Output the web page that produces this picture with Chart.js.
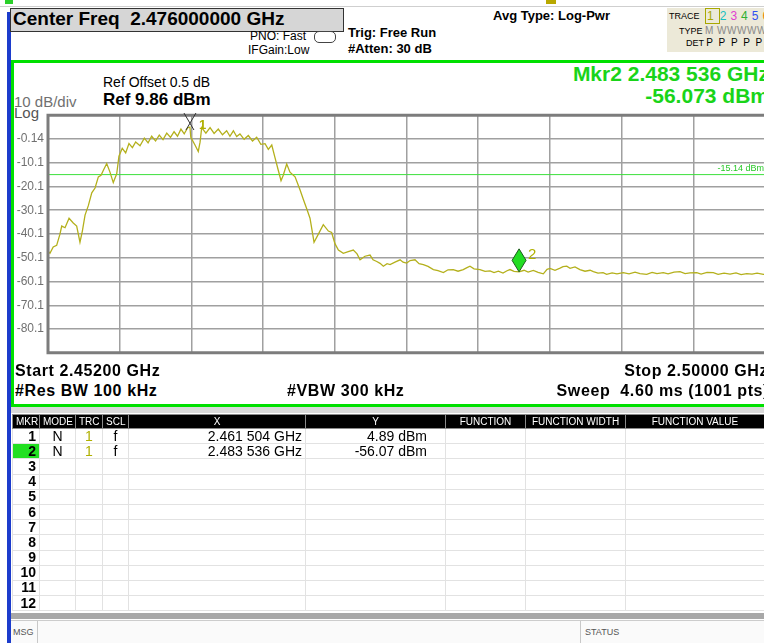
<!DOCTYPE html>
<html>
<head>
<meta charset="utf-8">
<script src="https://cdn.jsdelivr.net/npm/chart.js@4.4.1/dist/chart.umd.min.js"></script>
<style>
  html, body { margin: 0; padding: 0; width: 764px; height: 643px; overflow: hidden; background: #fff; }
  body { position: relative; font-family: "Liberation Sans", Arial, sans-serif; color: #000; }
  .abs { position: absolute; white-space: nowrap; }
  .narrow { font-family: "Liberation Sans Narrow", "Arial Narrow", "Liberation Sans", sans-serif; }
  .foot { font-size: 16px; font-weight: bold; letter-spacing: 0.6px; }
  #panel { position: absolute; left: 11px; top: 60px; width: 770px; height: 341px; border: 3px solid #00e000; border-right: none; }
  #trace { position: absolute; left: 14px; top: 104px; }
  #tbl { position: absolute; left: 12px; top: 414px; width: 752px; border-collapse: collapse; table-layout: fixed; }
  #tbl td { height: 14.2px; padding: 0 3px; border: 1px solid #e2e2e2; font-size: 14px; line-height: 13px; overflow: hidden; }
  #tbl tr.hd td { background: #000; color: #fff; border: 1px solid #8a8a8a; font-size: 10px; text-align: center; height: 13px;
    font-family: "Liberation Sans Narrow", "Liberation Sans", sans-serif; }
  #tbl td.n { text-align: right; font-weight: bold; padding-right: 3px; }
  #tbl td.c { text-align: center; }
  #tbl td.r { text-align: right; }
</style>
</head>
<body>

<!-- ruler strip and left frame -->
<div class="abs" style="left:0;top:6px;width:764px;height:1px;background:#cfcfcf"></div>
<div class="abs" style="left:5px;top:0;width:8px;height:4px;background:#2ad02a"></div>
<div class="abs" style="left:546px;top:0;width:10px;height:4px;background:#b8a800"></div>
<div class="abs" style="left:7px;top:12px;width:4px;height:631px;background:#1c3ccc"></div>

<!-- header -->
<div class="abs" style="left:10px;top:8px;width:332px;height:22px;background:#d6d6d6;border:1px solid #333"></div>
<div class="abs" style="left:13px;top:8px;font-size:19px;font-weight:bold;">Center Freq&nbsp; 2.476000000 GHz</div>
<div class="abs" style="left:250px;top:29px;font-size:12px;">PNO: Fast</div>
<div class="abs" style="left:314px;top:31px;width:20px;height:10px;border:1px solid #444;border-radius:5px;"></div>
<div class="abs" style="left:248px;top:43px;font-size:12px;">IFGain:Low</div>
<div class="abs narrow" style="left:348px;top:25px;font-size:13px;font-weight:bold;">Trig: Free Run</div>
<div class="abs narrow" style="left:348px;top:41px;font-size:13px;font-weight:bold;">#Atten: 30 dB</div>
<div class="abs narrow" style="left:493px;top:8px;font-size:13px;font-weight:bold;">Avg Type: Log-Pwr</div>

<div class="abs" style="left:667px;top:8px;width:100px;height:44px;background:#ece9d8"></div>
<div class="abs narrow" style="left:669px;top:11px;font-size:9px;">TRACE</div>
<div class="abs narrow" style="left:705px;top:9px;font-size:12px;letter-spacing:4px;">
  <span style="color:#a8a800;border:1px solid #a8a800;padding:0 1px;">1</span><span style="color:#18c0c0">2</span><span style="color:#e040d0">3</span><span style="color:#30b030">4</span><span style="color:#3050f0">5</span><span style="color:#f08000">6</span>
</div>
<div class="abs narrow" style="left:679px;top:25px;font-size:9px;">TYPE <span style="color:#888;font-size:10px;letter-spacing:0.5px;">M WWWWW</span></div>
<div class="abs narrow" style="left:686px;top:37px;font-size:9px;">DET <span style="font-size:10px;letter-spacing:1.5px;">P P P P P P</span></div>

<!-- measurement panel -->
<div id="panel"></div>
<div class="abs" style="left:103px;top:74px;font-size:14px;">Ref Offset 0.5 dB</div>
<div class="abs" style="left:103px;top:90px;font-size:17px;font-weight:bold;">Ref 9.86 dBm</div>
<div class="abs" style="left:14px;top:93px;font-size:15px;color:#707070;">10 dB/div</div>
<div class="abs" style="left:14px;top:104px;font-size:15px;color:#555;">Log</div>
<div class="abs" style="right:-5px;top:62px;font-size:21px;font-weight:bold;color:#19d419;">Mkr2 2.483 536 GHz</div>
<div class="abs" style="right:-5px;top:84px;font-size:21px;font-weight:bold;color:#19d419;">-56.073 dBm</div>

<canvas id="trace" width="751" height="260"></canvas>

<div class="abs foot" style="left:15px;top:362px;">Start 2.45200 GHz</div>
<div class="abs foot" style="right:-4px;top:362px;">Stop 2.50000 GHz</div>
<div class="abs foot" style="left:15px;top:382px;">#Res BW 100 kHz</div>
<div class="abs foot" style="left:287px;top:382px;">#VBW 300 kHz</div>
<div class="abs foot" style="right:-5px;top:382px;">Sweep&nbsp; 4.60 ms (1001 pts)</div>

<!-- marker table -->
<div class="abs" style="left:11px;top:407px;width:760px;height:6px;background:#d9d9d9"></div>
<table id="tbl"></table>
<div class="abs" style="left:11px;top:613px;width:760px;height:6px;background:#a8a8a8"></div>
<div class="abs" style="left:11px;top:620px;width:760px;height:23px;background:#fafafa;border-top:1px solid #ccc"></div>
<div class="abs" style="left:37px;top:621px;width:1px;height:22px;background:#c8c8c8"></div>
<div class="abs" style="left:580px;top:621px;width:1px;height:22px;background:#c8c8c8"></div>
<div class="abs" style="left:13px;top:627px;font-size:9px;color:#555;">MSG</div>
<div class="abs" style="left:585px;top:627px;font-size:9px;color:#555;">STATUS</div>

<script>
// trace (MHz, dBm)
const freqMHz = [
  2452.00, 2452.13, 2452.35, 2452.58, 2452.80, 2452.92, 2453.14, 2453.41, 2453.69, 2453.92,
  2454.14, 2454.30, 2454.48, 2454.70, 2454.93, 2455.15, 2455.37, 2455.55, 2455.70, 2455.93,
  2456.15, 2456.37, 2456.60, 2456.75, 2456.97, 2457.20, 2457.42, 2457.65, 2457.87, 2458.16,
  2458.45, 2458.70, 2458.94, 2459.20, 2459.45, 2459.70, 2459.95, 2460.20, 2460.44, 2460.67,
  2460.90, 2461.12, 2461.35, 2461.50, 2461.56, 2461.84, 2462.06, 2462.18, 2462.29, 2462.57,
  2462.85, 2463.12, 2463.40, 2463.68, 2463.96, 2464.18, 2464.41, 2464.63, 2464.85, 2465.13,
  2465.41, 2465.69, 2465.97, 2466.25, 2466.53, 2466.75, 2466.98, 2467.20, 2467.42, 2467.60,
  2467.75, 2467.98, 2468.20, 2468.54, 2468.87, 2469.09, 2469.32, 2469.54, 2469.81, 2470.10,
  2470.43, 2470.77, 2470.99, 2471.21, 2471.44, 2471.77, 2472.10, 2472.44, 2472.69, 2472.89,
  2473.22, 2473.56, 2473.76, 2474.01, 2474.23, 2474.45, 2474.70, 2474.90, 2475.23, 2475.57,
  2475.77, 2476.01, 2476.24, 2476.57, 2476.84, 2477.13, 2477.44, 2477.80, 2478.11, 2478.47,
  2478.78, 2479.13, 2479.45, 2479.80, 2480.05, 2480.25, 2480.52, 2480.92, 2481.26, 2481.59,
  2481.86, 2482.15, 2482.46, 2482.73, 2482.93, 2483.20, 2483.536, 2483.87, 2484.14, 2484.49,
  2484.81, 2485.16, 2485.41, 2485.61, 2485.94, 2486.28, 2486.48, 2486.73, 2486.95, 2487.28,
  2487.61, 2487.95, 2488.29, 2488.51, 2488.82, 2489.16, 2489.40, 2489.76, 2490.09, 2490.51,
  2490.90, 2491.30, 2491.63, 2492.08, 2492.44, 2492.77, 2493.19, 2493.51, 2493.91, 2494.31,
  2494.65, 2494.98, 2495.43, 2495.72, 2496.12, 2496.54, 2496.86, 2497.26, 2497.66, 2498.06,
  2498.40, 2498.78, 2499.13, 2499.47, 2499.89, 2500.00
];
const levelDbm = [
  -47.2, -48.3, -45.6, -44.9, -40.2, -36.8, -37.5, -33.5, -35.5, -36.8,
  -43.6, -38.9, -32.2, -28.2, -22.8, -20.8, -16.1, -15.4, -13.4, -10.5,
  -14.1, -18.5, -14.8, -7.4, -4.1, -6.0, -2.1, -3.8, -1.4, -3.0,
  0.2, -1.8, 1.0, -1.0, 1.5, -0.4, 2.3, 0.5, 2.9, 1.0,
  4.0, 2.0, 4.6, 4.89, 0.6, -2.7, -5.4, -1.5, 4.6, 2.3,
  4.6, 2.2, 4.0, 1.6, 3.3, 1.0, 3.3, 0.9, 2.0, -0.3,
  1.3, -1.0, 0.6, -2.4, -2.1, -4.5, -2.7, -8.1, -13.4, -17.7,
  -15.4, -10.7, -14.1, -16.1, -21.5, -25.5, -29.5, -33.5, -43.6, -40.2,
  -36.2, -38.9, -39.5, -44.2, -46.9, -48.3, -47.6, -46.9, -48.5, -51.0,
  -49.5, -49.0, -51.0, -51.7, -52.5, -53.7, -52.6, -53.0, -52.0, -51.0,
  -52.0, -52.4, -51.3, -51.0, -52.6, -53.0, -53.8, -55.1, -55.6, -56.4,
  -55.2, -55.1, -55.8, -55.1, -54.3, -53.7, -54.8, -55.1, -55.9, -55.7,
  -56.4, -55.8, -56.6, -55.6, -55.1, -55.9, -56.07, -55.4, -56.2, -55.5,
  -56.3, -56.9, -55.0, -54.6, -55.4, -54.5, -53.9, -53.7, -54.6, -54.0,
  -55.1, -55.8, -55.4, -56.0, -56.6, -56.4, -57.1, -56.5, -56.9, -56.4,
  -56.9, -56.2, -56.8, -57.1, -56.3, -56.8, -56.4, -56.9, -56.2, -56.0,
  -56.8, -56.5, -56.4, -57.0, -56.3, -56.4, -57.1, -56.6, -57.0, -56.5,
  -57.2, -56.8, -57.0, -56.6, -57.1, -57.0
];

// axes: 10 dB/div from ref level 9.86 dBm, 10 divisions of 4.8 MHz
const yTicks = [-90.14, -80.14, -70.14, -60.14, -50.14, -40.14, -30.14, -20.14, -10.14, -0.14, 9.86];
const yTickLabels = ['', '-80.1', '-70.1', '-60.1', '-50.1', '-40.1', '-30.1', '-20.1', '-10.1', '-0.14', ''];
const xGrid = [2452, 2456.8, 2461.6, 2466.4, 2471.2, 2476, 2480.8, 2485.6, 2490.4, 2495.2, 2500];
const displayLine = -15.14;

// markers
const markerNames = ['1', '2'];
const markerFreq = [2461.504, 2483.536];
const markerLevel = [4.89, -56.07];
const markerFreqText = ['2.461 504 GHz', '2.483 536 GHz'];
const markerLevelText = ['4.89 dBm', '-56.07 dBm'];

// marker table
const cols = ['MKR', 'MODE', 'TRC', 'SCL', 'X', 'Y', 'FUNCTION', 'FUNCTION WIDTH', 'FUNCTION VALUE'];
const colW = [27, 36, 27, 26, 177, 140, 80, 100, 139];
let html = '<colgroup>' + colW.map(w => '<col style="width:' + w + 'px">').join('') + '</colgroup>';
html += '<tr class="hd">' + cols.map(c => '<td>' + c + '</td>').join('') + '</tr>';
for (let r = 1; r <= 12; r++) {
  const m = r - 1;
  const has = m < markerNames.length;
  html += '<tr>' +
    '<td class="n"' + (r === 2 ? ' style="background:#22e022"' : '') + '>' + r + '</td>' +
    '<td class="c">' + (has ? 'N' : '') + '</td>' +
    '<td class="c" style="color:#b0b000">' + (has ? '1' : '') + '</td>' +
    '<td class="c">' + (has ? 'f' : '') + '</td>' +
    '<td class="r">' + (has ? markerFreqText[m] : '') + '</td>' +
    '<td class="r" style="padding-right:18px">' + (has ? markerLevelText[m] : '') + '</td>' +
    '<td></td><td></td><td></td></tr>';
}
document.getElementById('tbl').innerHTML = html;

// markers, frame and display-line label
const overlay = {
  id: 'overlay',
  afterDraw(chart) {
    const c = chart.ctx, a = chart.chartArea;
    const xs = chart.scales.x, ys = chart.scales.y;
    c.save();
    c.strokeStyle = '#7c7c7c';
    c.lineWidth = 3;
    c.beginPath();
    c.moveTo(a.right + 5, a.top); c.lineTo(a.left, a.top); c.lineTo(a.left, a.bottom); c.lineTo(a.right + 5, a.bottom);
    c.stroke();

    c.fillStyle = '#28c828';
    c.font = '9px "Liberation Sans"';
    c.textAlign = 'right';
    c.fillText('-15.14 dBm', a.right - 1, ys.getPixelForValue(displayLine) - 4);

    // marker 1: peak cross
    let px = xs.getPixelForValue(markerFreq[0]), py = ys.getPixelForValue(markerLevel[0]);
    c.strokeStyle = '#303030';
    c.lineWidth = 1;
    c.beginPath();
    c.moveTo(px - 6, py - 14); c.lineTo(px + 4, py + 3);
    c.moveTo(px + 6, py - 14); c.lineTo(px - 4, py + 3);
    c.stroke();
    c.fillStyle = '#b0b000';
    c.font = 'bold 13px "Liberation Sans"';
    c.textAlign = 'left';
    c.fillText(markerNames[0], px + 9, py + 2);

    // marker 2: active diamond
    px = xs.getPixelForValue(markerFreq[1]); py = ys.getPixelForValue(markerLevel[1]);
    c.beginPath();
    c.moveTo(px, py); c.lineTo(px + 7, py - 11.5); c.lineTo(px, py - 23); c.lineTo(px - 7, py - 11.5); c.closePath();
    c.fillStyle = '#22dd22';
    c.fill();
    c.strokeStyle = '#1d5a1d';
    c.stroke();
    c.fillStyle = '#b0b000';
    c.font = '15px "Liberation Sans"';
    c.fillText(markerNames[1], px + 9, py - 13);
    c.restore();
  }
};

const ctx = document.getElementById('trace').getContext('2d');
new Chart(ctx, {
  type: 'line',
  data: {
    datasets: [{
      data: freqMHz.map((f, i) => ({ x: f, y: levelDbm[i] })),
      borderColor: '#b4b01c',
      borderWidth: 1.3,
      pointRadius: 0,
      tension: 0
    }, {
      data: [{ x: xGrid[0], y: displayLine }, { x: xGrid[xGrid.length - 1], y: displayLine }],
      borderColor: '#3ce03c',
      borderWidth: 1,
      pointRadius: 0
    }]
  },
  options: {
    responsive: false,
    animation: false,
    events: [],
    layout: { padding: { top: 6, bottom: 5, left: 0, right: 0 } },
    plugins: { legend: { display: false }, tooltip: { enabled: false } },
    scales: {
      x: {
        type: 'linear', min: xGrid[0], max: xGrid[xGrid.length - 1],
        afterBuildTicks: s => { s.ticks = xGrid.map(v => ({ value: v })); },
        afterFit: s => { s.height = 0; },
        ticks: { display: false },
        grid: { color: '#a0a0a0', lineWidth: 1.5, drawTicks: false },
        border: { display: false }
      },
      y: {
        min: yTicks[0], max: yTicks[yTicks.length - 1],
        afterBuildTicks: s => { s.ticks = yTicks.map(v => ({ value: v })); },
        afterFit: s => { s.width = 34; },
        ticks: {
          autoSkip: false, padding: 4, color: '#707070',
          font: { size: 12, family: 'Liberation Sans' },
          callback: (v, i) => yTickLabels[i]
        },
        grid: { color: '#a0a0a0', lineWidth: 1.5, drawTicks: false },
        border: { display: false }
      }
    }
  },
  plugins: [overlay]
});
</script>
</body>
</html>
